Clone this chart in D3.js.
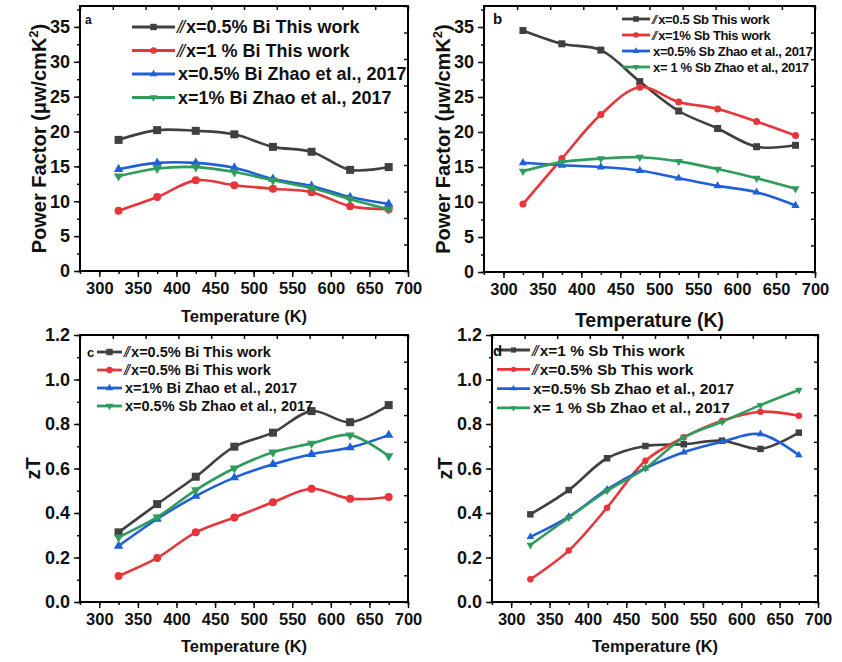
<!DOCTYPE html>
<html><head><meta charset="utf-8">
<script src="https://cdn.jsdelivr.net/npm/d3@7"></script>
<style>body{margin:0;background:#fff}svg{display:block}text{font-family:"Liberation Sans",Arial,sans-serif;font-weight:bold;fill:#111}</style>
</head><body><svg id="c" width="842" height="662"></svg>
<script>
const temps = [325, 375, 425, 475, 525, 575, 625, 675];
const xTicks = [300, 350, 400, 450, 500, 550, 600, 650, 700];
const pfTicks = [0, 5, 10, 15, 20, 25, 30, 35];
const ztTicks = [0.0, 0.2, 0.4, 0.6, 0.8, 1.0, 1.2];

// Panel a: power factor, Bi
const aNames = ["x=0.5% Bi This work", "x=1 % Bi This work", "x=0.5% Bi Zhao et al., 2017", "x=1% Bi Zhao et al., 2017"];
const aBlack = [18.8, 20.2, 20.1, 19.6, 17.8, 17.1, 14.5, 14.9];
const aRed   = [8.65, 10.6, 13.0, 12.3, 11.8, 11.3, 9.3, 8.85];
const aBlue  = [14.6, 15.5, 15.5, 14.8, 13.2, 12.2, 10.6, 9.6];
const aGreen = [13.6, 14.7, 14.9, 14.2, 13.0, 11.9, 10.3, 8.85];

// Panel b: power factor, Sb
const bNames = ["x=0.5 Sb This work", "x=1%  Sb This work", "x=0.5%  Sb Zhao et al., 2017", "x= 1 %  Sb Zhao et al., 2017"];
const bBlack = [34.5, 32.6, 31.7, 27.2, 23.0, 20.5, 17.9, 18.1];
const bRed   = [9.7, 16.2, 22.5, 26.4, 24.3, 23.3, 21.5, 19.5];
const bBlue  = [15.6, 15.25, 15.0, 14.5, 13.4, 12.3, 11.4, 9.5];
const bGreen = [14.4, 15.7, 16.2, 16.4, 15.8, 14.7, 13.4, 11.9];

// Panel c: zT, Bi
const cNames = ["x=0.5%  Bi This work", "x=0.5%  Bi This work", "x=1%  Bi Zhao et al., 2017", "x=0.5%  Sb Zhao et al., 2017"];
const cBlack = [0.313, 0.44, 0.563, 0.698, 0.761, 0.858, 0.808, 0.885];
const cRed   = [0.117, 0.198, 0.313, 0.38, 0.448, 0.509, 0.464, 0.472];
const cBlue  = [0.252, 0.373, 0.476, 0.559, 0.619, 0.664, 0.694, 0.75];
const cGreen = [0.291, 0.381, 0.503, 0.601, 0.673, 0.713, 0.75, 0.656];

// Panel d: zT, Sb
const dNames = ["x=1 % Sb This work", "x=0.5% Sb This work", "x=0.5% Sb Zhao et al., 2017", "x= 1 % Sb Zhao et al., 2017"];
const dBlack = [0.394, 0.503, 0.646, 0.701, 0.709, 0.725, 0.688, 0.761];
const dRed   = [0.102, 0.231, 0.424, 0.635, 0.74, 0.815, 0.855, 0.837];
const dBlue  = [0.293, 0.383, 0.506, 0.601, 0.673, 0.72, 0.755, 0.66];
const dGreen = [0.256, 0.379, 0.5, 0.601, 0.74, 0.81, 0.885, 0.953];

const colors = ["#404040", "#e8353a", "#1f5fd8", "#2f9c5e"];
const shapes = ["square", "circle", "up", "down"];
const slashed = [true, true, false, false];

const svg = d3.select("#c");

function marker(g, shape, cx, cy, s, color) {
  let sym;
  if (shape === "square") sym = d3.symbol(d3.symbolSquare, s * s);
  else if (shape === "circle") sym = d3.symbol(d3.symbolCircle, Math.PI * (s / 2) * (s / 2));
  else sym = d3.symbol(d3.symbolTriangle, s * s * 0.6);
  g.append("path").attr("d", sym())
    .attr("transform", `translate(${cx},${cy})` + (shape === "down" ? " rotate(180)" : ""))
    .attr("fill", color);
}

function panel(cfg) {
  const {L, R, T, B, ydom, yticks, yminor, series, names, letter, ylab, xlabSize, xlabY, fmt, leg, msize} = cfg;
  const x = d3.scaleLinear().domain([275, 700]).range([L, R]);
  const y = d3.scaleLinear().domain(ydom).range([B, T]);
  const g = svg.append("g");

  // bottom axis
  const minorX = d3.range(275, 701, 25);
  g.append("g").attr("transform", `translate(0,${B})`)
    .call(d3.axisBottom(x).tickValues(minorX).tickSize(3).tickFormat(""))
    .call(a => a.select(".domain").remove());
  const bx = g.append("g").attr("transform", `translate(0,${B})`)
    .call(d3.axisBottom(x).tickValues(xTicks).tickSize(6).tickPadding(5).tickFormat(d3.format("d")));
  bx.select(".domain").remove();
  bx.selectAll("text").attr("font-size", 16.5).attr("fill", "#111");
  // left axis
  g.append("g").attr("transform", `translate(${L},0)`)
    .call(d3.axisLeft(y).tickValues(yminor).tickSize(3).tickFormat(""))
    .call(a => a.select(".domain").remove());
  const ly = g.append("g").attr("transform", `translate(${L},0)`)
    .call(d3.axisLeft(y).tickValues(yticks).tickSize(6).tickPadding(4).tickFormat(fmt));
  ly.select(".domain").remove();
  ly.selectAll("text").attr("font-size", 18).attr("fill", "#111");
  g.selectAll(".tick line").attr("stroke", "#111").attr("stroke-width", 1.5);

  // top & right inward ticks (10 divisions)
  const xr = d3.range(0, 11).map(i => 275 + i * 42.5);
  const yr = d3.range(0, 11).map(i => ydom[0] + i * (ydom[1] - ydom[0]) / 10);
  g.append("g").attr("transform", `translate(0,${T})`)
    .call(d3.axisBottom(x).tickValues(xr).tickSize(4).tickFormat(""))
    .call(a => a.select(".domain").remove())
    .selectAll("line").attr("stroke", "#111").attr("stroke-width", 1.5);
  g.append("g").attr("transform", `translate(${R},0)`)
    .call(d3.axisRight(y).tickValues(yr).tickSize(-4).tickFormat(""))
    .call(a => a.select(".domain").remove())
    .selectAll("line").attr("stroke", "#111").attr("stroke-width", 1.5);

  g.append("rect").attr("x", L).attr("y", T).attr("width", R - L).attr("height", B - T)
    .attr("fill", "none").attr("stroke", "#000").attr("stroke-width", 2);

  // series
  const line = d3.line().x((d, i) => x(temps[i])).y(d => y(d)).curve(d3.curveCatmullRom.alpha(0.5));
  series.forEach((vals, k) => {
    g.append("path").attr("d", line(vals)).attr("fill", "none")
      .attr("stroke", colors[k]).attr("stroke-width", 2.6);
    vals.forEach((v, i) => marker(g, shapes[k], x(temps[i]), y(v), msize, colors[k]));
  });

  // legend
  names.forEach((n, k) => {
    const yy = leg.y0 + k * leg.dy;
    g.append("line").attr("x1", leg.x1).attr("x2", leg.x2).attr("y1", yy).attr("y2", yy)
      .attr("stroke", colors[k]).attr("stroke-width", 2.8);
    marker(g, shapes[k], (leg.x1 + leg.x2) / 2, yy, msize * 0.8, colors[k]);
    const t = g.append("text").attr("x", slashed[k] ? leg.x2 + 2 : leg.x2 + 3).attr("y", yy + leg.fs * 0.36)
      .attr("font-size", leg.fs);
    if (leg.ls) t.attr("letter-spacing", leg.ls);
    if (slashed[k]) t.append("tspan").attr("font-style", "italic").attr("font-weight", "normal").attr("letter-spacing", -2).text("//");
    t.append("tspan").attr("dx", slashed[k] ? 3 : 0).text(n);
  });

  // panel letter
  g.append("text").attr("x", letter.x).attr("y", letter.y).attr("font-size", letter.fs).text(letter.t);

  // x label
  g.append("text").attr("x", (L + R) / 2).attr("y", xlabY).attr("text-anchor", "middle")
    .attr("font-size", xlabSize).text("Temperature (K)");
  // y label
  const yl = g.append("text").attr("transform", `translate(${ylab.x},${(T + B) / 2}) rotate(-90)`)
    .attr("text-anchor", "middle").attr("font-size", ylab.fs);
  if (ylab.pf) {
    yl.append("tspan").text("Power Factor (\u03bcw/cmK");
    yl.append("tspan").attr("font-size", ylab.fs * 0.65).attr("dy", -8).text("2");
    yl.append("tspan").attr("dy", 8).text(")");
  } else yl.text("zT");
}

const pfMinor = d3.range(0, 38, 2.5);
const ztMinor = d3.range(0, 1.21, 0.1);

panel({L: 80, R: 408, T: 6, B: 271, ydom: [0, 38], yticks: pfTicks, yminor: pfMinor,
  series: [aBlack, aRed, aBlue, aGreen], names: aNames, fmt: d3.format("d"),
  letter: {x: 85, y: 24, fs: 12, t: "a"}, ylab: {x: 46, fs: 20, pf: true}, xlabSize: 16.5, xlabY: 322,
  leg: {x1: 132, x2: 175, y0: 27, dy: 23.5, fs: 18}, msize: 8});

panel({L: 484, R: 815, T: 6, B: 272, ydom: [0, 38], yticks: pfTicks, yminor: pfMinor,
  series: [bBlack, bRed, bBlue, bGreen], names: bNames, fmt: d3.format("d"),
  letter: {x: 493, y: 24, fs: 15, t: "b"}, ylab: {x: 450, fs: 20, pf: true}, xlabSize: 19.5, xlabY: 327,
  leg: {x1: 622, x2: 650, y0: 19, dy: 16, fs: 13, ls: -0.35}, msize: 7});

panel({L: 80, R: 408, T: 335, B: 602, ydom: [0, 1.2], yticks: ztTicks, yminor: ztMinor,
  series: [cBlack, cRed, cBlue, cGreen], names: cNames, fmt: d3.format(".1f"),
  letter: {x: 87, y: 357, fs: 13, t: "c"}, ylab: {x: 40, fs: 20, pf: false}, xlabSize: 16.5, xlabY: 652,
  leg: {x1: 97, x2: 122, y0: 352, dy: 18, fs: 14.5}, msize: 8});

panel({L: 492, R: 818, T: 335, B: 602, ydom: [0, 1.2], yticks: ztTicks, yminor: ztMinor,
  series: [dBlack, dRed, dBlue, dGreen], names: dNames, fmt: d3.format(".1f"),
  letter: {x: 493, y: 356, fs: 15, t: "d"}, ylab: {x: 452, fs: 20, pf: false}, xlabSize: 16.5, xlabY: 652,
  leg: {x1: 497, x2: 530, y0: 350, dy: 19.3, fs: 15.5}, msize: 6.5});
</script></body></html>
